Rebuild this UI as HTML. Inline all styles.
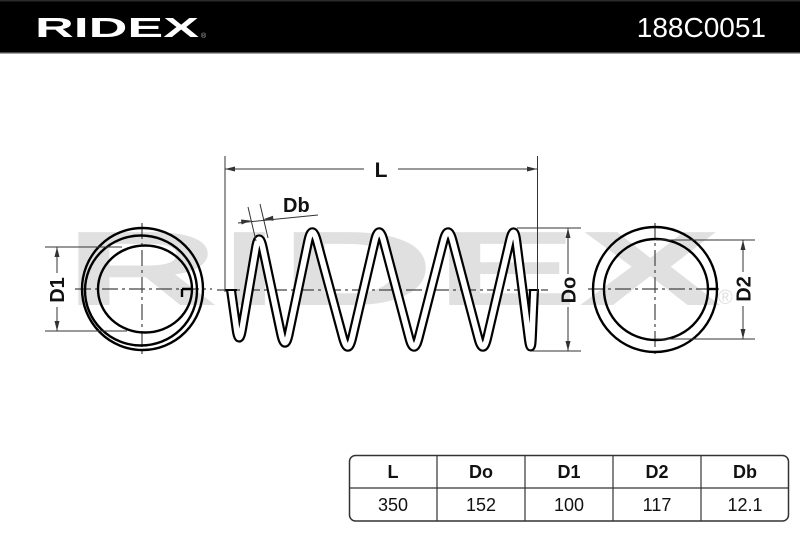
<!DOCTYPE html>
<html>
<head>
<meta charset="utf-8">
<style>
  html,body{margin:0;padding:0;background:#fff;}
  body{width:800px;height:533px;overflow:hidden;}
  svg{display:block;}
  .t{font-family:"Liberation Sans",Arial,sans-serif;}
</style>
</head>
<body>
<svg width="800" height="533" viewBox="0 0 800 533" xmlns="http://www.w3.org/2000/svg">
  <!-- header -->
  <rect x="0" y="0" width="800" height="53" fill="#000"/>
  <rect x="0" y="0" width="800" height="1.5" fill="#2a2a2a"/>
  <rect x="0" y="52" width="800" height="1.5" fill="#4a4a4a"/>
  <text class="t" x="35" y="37" font-size="28" font-weight="bold" fill="#fff" textLength="164" lengthAdjust="spacingAndGlyphs">RIDEX</text>
  <text class="t" x="201" y="38" font-size="7" fill="#bbb">®</text>
  <text class="t" x="766" y="37" font-size="28" fill="#fff" text-anchor="end">188C0051</text>

  <!-- watermark -->
  <text class="t" x="64" y="305" font-size="106" font-weight="bold" fill="#e0e0e0" textLength="658" lengthAdjust="spacingAndGlyphs">RIDEX</text>
  <text class="t" x="718" y="304" font-size="20" fill="#e0e0e0">®</text>

  <!-- center lines -->
  <g stroke="#444" stroke-width="1.2" stroke-dasharray="16 4 3 4" fill="none">
    <line x1="75" y1="289" x2="212" y2="289"/>
    <line x1="142" y1="223" x2="142" y2="357"/>
    <line x1="217" y1="290" x2="548" y2="290"/>
    <line x1="588" y1="289" x2="722" y2="289"/>
    <line x1="655" y1="223" x2="655" y2="357"/>
  </g>

  <!-- left end view -->
  <g fill="none" stroke="#000" stroke-width="2.4">
    <ellipse cx="142.5" cy="289" rx="60.5" ry="61"/>
    <ellipse cx="141" cy="290.5" rx="56" ry="55"/>
    <ellipse cx="145" cy="289" rx="47" ry="43.5"/>
    <path d="M182 289 H193 M182 289 V297"/>
  </g>

  <!-- right end view -->
  <g fill="none" stroke="#000" stroke-width="2.4">
    <ellipse cx="655" cy="289.5" rx="62" ry="62.5"/>
    <ellipse cx="656" cy="289.5" rx="52" ry="50.5"/>
    <line x1="707" y1="289" x2="717" y2="289"/>
  </g>

  <!-- spring -->
  <g fill="none" stroke-linejoin="round">
    <path stroke="#000" stroke-width="10"
      d="M231 290 L236.4 328.2 Q239 347 242.2 328.3 L255.8 248.7 Q259 230 263 248.6 L281 333.4 Q285 352 288.9 333.4 L308.1 241.6 Q312 223 317 241.3 L343 337.7 Q348 356 352.3 337.5 L374.7 241.5 Q379 223 383.8 241.4 L409.2 337.6 Q414 356 418.7 337.6 L443.3 241.4 Q448 223 452.8 241.4 L478.2 337.6 Q483 356 487.3 337.5 L509.7 241.5 Q514 223 516.4 241.8 L528.6 337.2 Q531 356 531.9 337 L534 290"/>
    <path stroke="#fff" stroke-width="5.6"
      d="M231 290 L236.4 328.2 Q239 347 242.2 328.3 L255.8 248.7 Q259 230 263 248.6 L281 333.4 Q285 352 288.9 333.4 L308.1 241.6 Q312 223 317 241.3 L343 337.7 Q348 356 352.3 337.5 L374.7 241.5 Q379 223 383.8 241.4 L409.2 337.6 Q414 356 418.7 337.6 L443.3 241.4 Q448 223 452.8 241.4 L478.2 337.6 Q483 356 487.3 337.5 L509.7 241.5 Q514 223 516.4 241.8 L528.6 337.2 Q531 356 531.9 337 L534 290"/>
  </g>
  <g stroke="#000" stroke-width="2">
    <line x1="225" y1="290" x2="237" y2="290"/>
    <line x1="529" y1="290" x2="539" y2="290"/>
  </g>

  <!-- dimension lines -->
  <g stroke="#333" stroke-width="1" fill="none">
    <!-- L -->
    <line x1="225" y1="156" x2="225" y2="292"/>
    <line x1="537.5" y1="156" x2="537.5" y2="293"/>
    <line x1="225" y1="169" x2="364" y2="169"/>
    <line x1="398" y1="169" x2="537" y2="169"/>
    <!-- Db -->
    <line x1="248" y1="207" x2="256" y2="241"/>
    <line x1="260" y1="204" x2="268" y2="238"/>
    <line x1="238" y1="223" x2="318" y2="215"/>
    <!-- D1 -->
    <line x1="45" y1="247" x2="122" y2="247"/>
    <line x1="45" y1="331" x2="127" y2="331"/>
    <line x1="57" y1="247" x2="57" y2="273"/>
    <line x1="57" y1="307" x2="57" y2="331"/>
    <!-- Do -->
    <line x1="517" y1="228" x2="581" y2="228"/>
    <line x1="532" y1="351" x2="581" y2="351"/>
    <line x1="568" y1="228" x2="568" y2="274"/>
    <line x1="568" y1="307" x2="568" y2="351"/>
    <!-- D2 -->
    <line x1="656" y1="240" x2="755" y2="240"/>
    <line x1="656" y1="339" x2="755" y2="339"/>
    <line x1="743" y1="240" x2="743" y2="272"/>
    <line x1="743" y1="306" x2="743" y2="339"/>
  </g>
  <!-- arrowheads -->
  <g fill="#333">
    <polygon points="225,169 235,166.5 235,171.5"/>
    <polygon points="537,169 527,166.5 527,171.5"/>
    <polygon points="251,220.6 241,219.5 241.5,224.5"/>
    <polygon points="263,219.4 273,215.8 273.5,220.8"/>
    <polygon points="57,247 54.5,257 59.5,257"/>
    <polygon points="57,331 54.5,321 59.5,321"/>
    <polygon points="568,228 565.5,238 570.5,238"/>
    <polygon points="568,351 565.5,341 570.5,341"/>
    <polygon points="743,240 740.5,250 745.5,250"/>
    <polygon points="743,339 740.5,329 745.5,329"/>
  </g>

  <!-- labels -->
  <g class="t" font-weight="bold" fill="#111">
    <text x="381" y="177" font-size="21" text-anchor="middle">L</text>
    <text x="283" y="212" font-size="20">Db</text>
    <text transform="translate(64 290) rotate(-90)" font-size="20" text-anchor="middle">D1</text>
    <text transform="translate(575.5 290) rotate(-90)" font-size="20" text-anchor="middle">Do</text>
    <text transform="translate(750.5 289) rotate(-90)" font-size="20" text-anchor="middle">D2</text>
  </g>

  <!-- table -->
  <rect x="349.5" y="455.5" width="439" height="65.5" rx="6" ry="6" fill="#fff" stroke="#333" stroke-width="1.5"/>
  <g stroke="#333" stroke-width="1.2">
    <line x1="349.5" y1="488" x2="788.5" y2="488"/>
    <line x1="437" y1="455.5" x2="437" y2="521"/>
    <line x1="525" y1="455.5" x2="525" y2="521"/>
    <line x1="613" y1="455.5" x2="613" y2="521"/>
    <line x1="701" y1="455.5" x2="701" y2="521"/>
  </g>
  <g class="t" font-size="18" fill="#111" text-anchor="middle">
    <text x="393" y="478" font-weight="bold">L</text>
    <text x="481" y="478" font-weight="bold">Do</text>
    <text x="569" y="478" font-weight="bold">D1</text>
    <text x="657" y="478" font-weight="bold">D2</text>
    <text x="745" y="478" font-weight="bold">Db</text>
    <text x="393" y="511">350</text>
    <text x="481" y="511">152</text>
    <text x="569" y="511">100</text>
    <text x="657" y="511">117</text>
    <text x="745" y="511">12.1</text>
  </g>
</svg>
</body>
</html>
